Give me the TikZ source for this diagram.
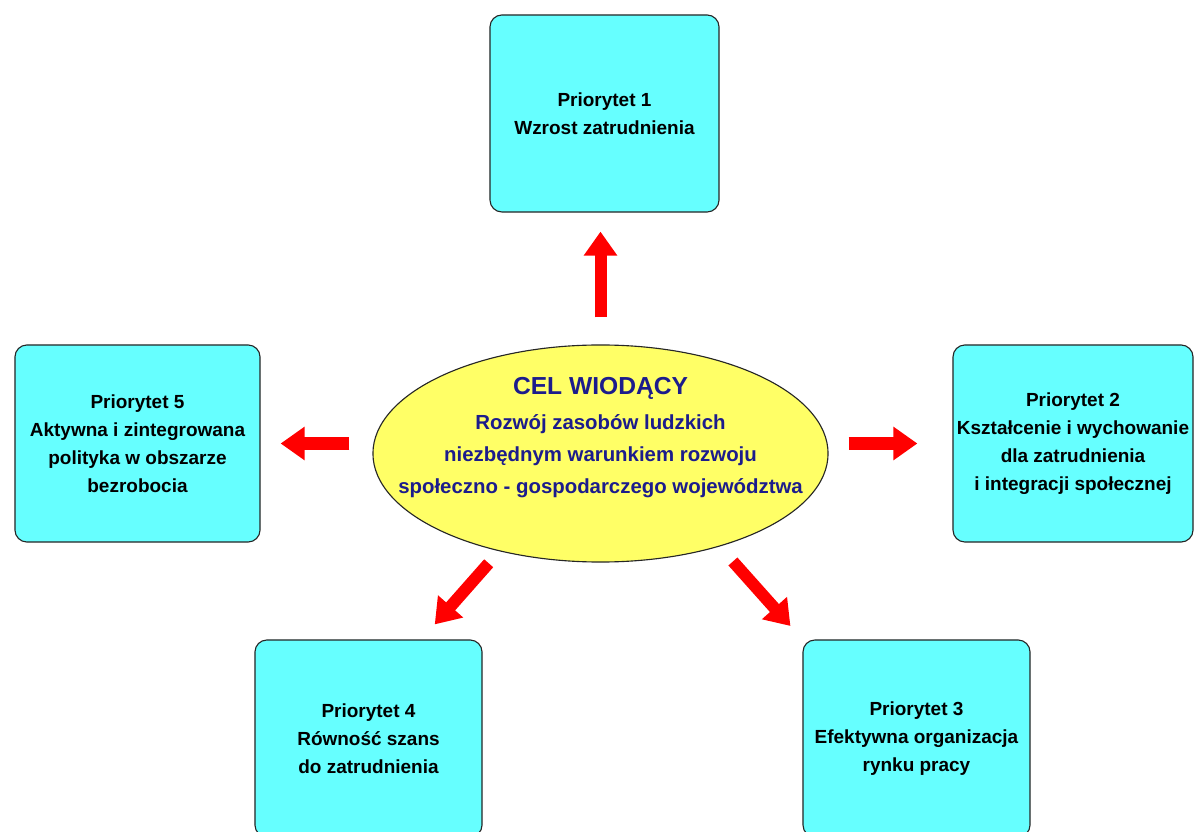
\documentclass[tikz,border=0pt]{standalone}
\usepackage{fontspec}
\setmainfont{Liberation Sans}
\usepackage{tikz}
\usetikzlibrary{shapes.geometric, arrows.meta, positioning, calc}
\definecolor{prioCyan}{RGB}{102,255,255}
\definecolor{celYellow}{RGB}{255,255,102}
\definecolor{celNavy}{RGB}{28,28,140}
\definecolor{arrowRed}{RGB}{255,0,0}
\tikzstyle{prio}     = [draw=black!85, line width=0.8pt, fill=prioCyan, rounded corners=0.3cm,
                        minimum height=4.925cm, align=center, inner sep=0pt,
                        font=\bfseries\fontsize{13.5}{20}\selectfont]
\tikzstyle{cel}      = [ellipse, draw=black!85, line width=0.8pt, fill=celYellow,
                        minimum width=11.375cm, minimum height=5.425cm, inner sep=0pt]
\tikzstyle{celtext}  = [align=center, text=celNavy, inner sep=0pt,
                        font=\bfseries\fontsize{14.5}{23}\selectfont]
\tikzstyle{bigarrow} = [arrowRed, line width=0.3cm, -{Triangle[width=0.8cm, length=0.6cm]}]

\begin{document}
\begin{tikzpicture}[x=0.025cm, y=-0.025cm]
  \useasboundingbox (0,0) rectangle (1196,832);

  % --- Centre: leading goal ---
  \node[cel] (cel) at (600.5,453.5) {};
  \node[celtext] (celtxt) at ([shift={(0,-16)}]cel.center)
    {\fontsize{17.5}{24}\selectfont CEL WIODĄCY\\[2pt]
     Rozwój zasobów ludzkich\\
     niezbędnym warunkiem rozwoju\\
     społeczno - gospodarczego województwa};

  % --- Priorities ---
  \node[prio, minimum width=5.725cm] (p1) at (604.5,113.5)
    {Priorytet 1\\Wzrost zatrudnienia};
  \node[prio, minimum width=6.0cm]   (p2) at (1073,443.5)
    {Priorytet 2\\Kształcenie i wychowanie\\dla zatrudnienia\\i integracji społecznej};
  \node[prio, minimum width=5.675cm] (p3) at (916.5,738.5)
    {Priorytet 3\\Efektywna organizacja\\rynku pracy};
  \node[prio, minimum width=5.675cm] (p4) at (368.5,738.5)
    {Priorytet 4\\Równość szans\\do zatrudnienia};
  \node[prio, minimum width=6.125cm] (p5) at (137.5,443.5)
    {Priorytet 5\\Aktywna i zintegrowana\\polityka w obszarze\\bezrobocia};

  % Arrows
  \draw[bigarrow, shorten <=0.675cm, shorten >=0.475cm] (cel.north) -- (cel.north |- p1.south);
  \draw[bigarrow, shorten <=0.5cm,   shorten >=0.875cm] (p2.west -| cel.east) -- (p2.west);
  \draw[bigarrow, shorten <=0.5cm,   shorten >=0.45cm]  (cel.-38) -- (p3.north west);
  \draw[bigarrow, shorten <=0.4cm,   shorten >=0.5cm]   (cel.-136) -- ([shift={(53,0)}]p4.north);
  \draw[bigarrow, shorten <=0.575cm, shorten >=0.5cm]   (p5.east -| cel.west) -- (p5.east);
\end{tikzpicture}
\end{document}
